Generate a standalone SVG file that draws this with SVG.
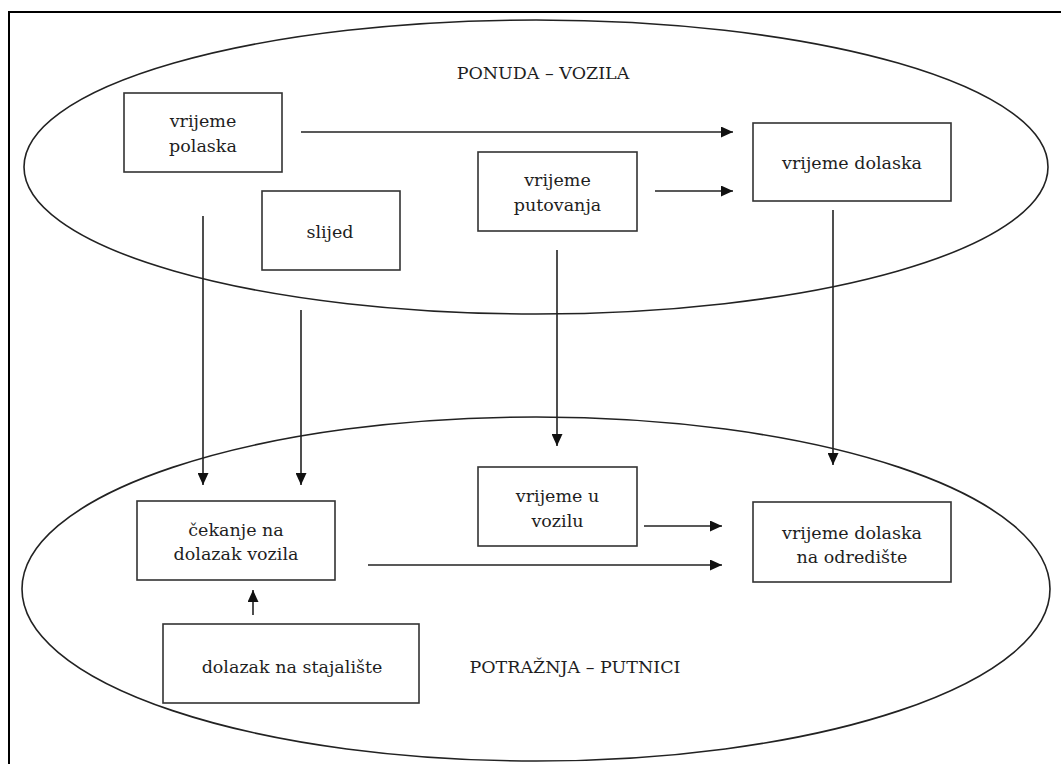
<svg xmlns="http://www.w3.org/2000/svg" width="1061" height="764" viewBox="0 0 1061 764">
  <style>
    .frame { fill: #ffffff; stroke: #000000; stroke-width: 2; }
    .ell { fill: none; stroke: #222222; stroke-width: 1.6; }
    .box { fill: #ffffff; stroke: #333333; stroke-width: 1.6; }
    .lbl { font-family: "DejaVu Serif", "Liberation Serif", serif; font-size: 17.5px; fill: #1e1e1e; text-anchor: middle; }
    .conn { stroke: #222222; stroke-width: 1.6; fill: none; marker-end: url(#arr); }
  </style>
  <defs>
    <marker id="arr" markerUnits="userSpaceOnUse" markerWidth="12" markerHeight="11" refX="12" refY="5.5" orient="auto">
      <path d="M0,0 L12,5.5 L0,11 Z" fill="#111111"/>
    </marker>
  </defs>
  <rect x="0" y="0" width="1061" height="764" fill="#ffffff"/>
  <rect class="frame" x="9" y="12" width="1070" height="780"/>

  <g id="ponuda-vozila">
    <ellipse class="ell" cx="536" cy="167" rx="512" ry="147"/>
    <text class="lbl" x="543" y="79">PONUDA – VOZILA</text>
  </g>
  <g id="potraznja-putnici">
    <ellipse class="ell" cx="536" cy="589" rx="514" ry="172"/>
    <text class="lbl" x="575" y="673">POTRAŽNJA – PUTNICI</text>
  </g>

  <g id="vrijeme-polaska">
    <rect class="box" x="124" y="93" width="158" height="79"/>
    <text class="lbl" x="203" y="127">vrijeme</text>
    <text class="lbl" x="203" y="152">polaska</text>
  </g>
  <g id="slijed">
    <rect class="box" x="262" y="191" width="138" height="79"/>
    <text class="lbl" x="330" y="238">slijed</text>
  </g>
  <g id="vrijeme-putovanja">
    <rect class="box" x="478" y="152" width="159" height="79"/>
    <text class="lbl" x="557.5" y="186">vrijeme</text>
    <text class="lbl" x="557.5" y="211">putovanja</text>
  </g>
  <g id="vrijeme-dolaska">
    <rect class="box" x="753" y="123" width="198" height="78"/>
    <text class="lbl" x="852" y="169">vrijeme dolaska</text>
  </g>
  <g id="cekanje">
    <rect class="box" x="137" y="501" width="198" height="79"/>
    <text class="lbl" x="236" y="536">čekanje na</text>
    <text class="lbl" x="236" y="560">dolazak vozila</text>
  </g>
  <g id="dolazak-na-stajaliste">
    <rect class="box" x="163" y="624" width="256" height="79"/>
    <text class="lbl" x="292" y="673">dolazak na stajalište</text>
  </g>
  <g id="vrijeme-u-vozilu">
    <rect class="box" x="478" y="467" width="159" height="79"/>
    <text class="lbl" x="557.5" y="502">vrijeme u</text>
    <text class="lbl" x="557.5" y="527">vozilu</text>
  </g>
  <g id="vrijeme-dolaska-odrediste">
    <rect class="box" x="753" y="502" width="198" height="80"/>
    <text class="lbl" x="852" y="539">vrijeme dolaska</text>
    <text class="lbl" x="852" y="563">na odredište</text>
  </g>

  <g id="connectors">
    <line class="conn" x1="301" y1="132" x2="733" y2="132"/>
    <line class="conn" x1="655" y1="191" x2="733" y2="191"/>
    <line class="conn" x1="203" y1="216" x2="203" y2="485"/>
    <line class="conn" x1="301" y1="310" x2="301" y2="485"/>
    <line class="conn" x1="557" y1="250" x2="557" y2="446"/>
    <line class="conn" x1="833" y1="210" x2="833" y2="465"/>
    <line class="conn" x1="644" y1="526" x2="722" y2="526"/>
    <line class="conn" x1="368" y1="565" x2="722" y2="565"/>
    <line class="conn" x1="253" y1="615" x2="253" y2="590"/>
  </g>
</svg>
